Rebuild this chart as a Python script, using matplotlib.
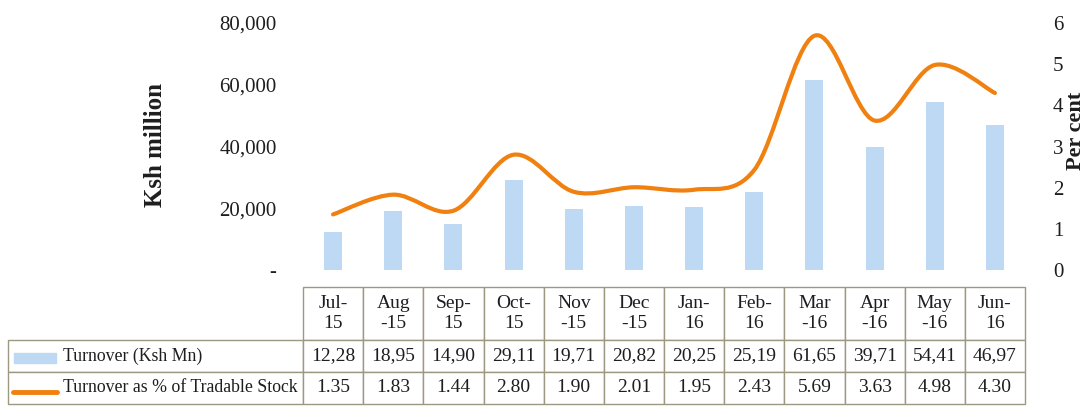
import matplotlib
matplotlib.use("Agg")
import matplotlib.pyplot as plt
import matplotlib.ticker as ticker
from matplotlib.path import Path
from matplotlib.patches import PathPatch, Rectangle
from matplotlib.lines import Line2D

plt.rcParams['font.family'] = ['Liberation Serif', 'DejaVu Serif']

# data
months = ['Jul-\n15', 'Aug\n-15', 'Sep-\n15', 'Oct-\n15', 'Nov\n-15', 'Dec\n-15',
          'Jan-\n16', 'Feb-\n16', 'Mar\n-16', 'Apr\n-16', 'May\n-16', 'Jun-\n16']
turnover = [12280, 18950, 14900, 29110, 19710, 20820, 20250, 25190, 61650, 39710, 54410, 46970]
turnover_labels = ['12,28', '18,95', '14,90', '29,11', '19,71', '20,82',
                   '20,25', '25,19', '61,65', '39,71', '54,41', '46,97']
pct = [1.35, 1.83, 1.44, 2.80, 1.90, 2.01, 1.95, 2.43, 5.69, 3.63, 4.98, 4.30]
pct_labels = ['%.2f' % v for v in pct]
row_names = ['Turnover (Ksh Mn)', 'Turnover as % of Tradable Stock']
left_ticks = [0, 20000, 40000, 60000, 80000]
left_tick_labels = ['-', '20,000', '40,000', '60,000', '80,000']

BLUE = '#bdd9f3'
ORANGE = '#f0800f'
EDGE = '#9d9882'
TXT = '#1e1e1e'

W, H = 1085, 408
fig = plt.figure(figsize=(W / 100, H / 100), dpi=100)
ax = fig.add_axes([303 / W, 1 - 270 / H, 722 / W, 247 / H])
ax2 = ax.twinx()

x = list(range(len(months)))
ax.bar(x, turnover, width=0.3, color=BLUE, zorder=1)
ax.set_xlim(-0.5, len(months) - 0.5)
ax.set_ylim(0, 80000)
ax2.set_ylim(0, 6)

# smooth line (Catmull-Rom style bezier through the data points)
pts = list(zip(x, pct))
verts = [pts[0]]
codes = [Path.MOVETO]
for i in range(len(pts) - 1):
    p0 = pts[max(i - 1, 0)]
    p1 = pts[i]
    p2 = pts[i + 1]
    p3 = pts[min(i + 2, len(pts) - 1)]
    c1 = (p1[0] + (p2[0] - p0[0]) / 6, p1[1] + (p2[1] - p0[1]) / 6)
    c2 = (p2[0] - (p3[0] - p1[0]) / 6, p2[1] - (p3[1] - p1[1]) / 6)
    verts += [c1, c2, p2]
    codes += [Path.CURVE4] * 3
ax2.add_patch(PathPatch(Path(verts, codes), fill=False, edgecolor=ORANGE,
                        lw=3.0, capstyle='round', joinstyle='round'))

for a in (ax, ax2):
    for s in a.spines.values():
        s.set_visible(False)
    a.tick_params(length=0, labelsize=15, labelcolor=TXT)
ax.set_xticks([])
ax.set_yticks(left_ticks)
ax.set_yticklabels(left_tick_labels)
ax.tick_params(axis='y', pad=19)
ax2.yaxis.set_major_locator(ticker.MultipleLocator(1))
ax2.tick_params(axis='y', pad=20)

fig.text(155 / W, 1 - 145 / H, 'Ksh million', rotation=90, ha='center', va='center',
         fontsize=18, fontweight='bold', color=TXT)
fig.text(1076 / W, 1 - 131 / H, 'Per cent', rotation=90, ha='center', va='center',
         fontsize=16, fontweight='bold', color=TXT)

# data table below the plot
cells = [[''] + months,
         [row_names[0]] + turnover_labels,
         [row_names[1]] + pct_labels]
aw = 722.0
ah = 247.0
label_w = (303 - 8) / aw
tab = ax.table(cellText=cells, cellLoc='center',
               colWidths=[label_w] + [1 / 12] * 12,
               bbox=[-label_w, (270 - 404) / ah, 1 + label_w, (404 - 287) / ah])
tab.auto_set_font_size(False)
row_h = [53, 32, 32]
for (r, c), cell in tab.get_celld().items():
    cell.set_height(row_h[r])
    cell.set_edgecolor(EDGE)
    cell.set_linewidth(1.0)
    cell.get_text().set_fontsize(14)
    cell.get_text().set_color(TXT)
    if r == 0 and c == 0:
        cell.visible_edges = ''
    if r > 0 and c == 0:
        cell._loc = 'left'
        cell.PAD = 0.185
        cell.get_text().set_ha('left')
        cell.get_text().set_fontsize(12.8)
    if r == 0:
        cell.get_text().set_linespacing(1.25)

# legend keys inside the row label cells
ax.add_patch(Rectangle(((14 - 303) / aw, (270 - 363) / ah), 42 / aw, 10 / ah,
                       transform=ax.transAxes, color=BLUE, clip_on=False))
ax.add_line(Line2D([(13 - 303) / aw, (57 - 303) / aw], [(270 - 392) / ah] * 2,
                   transform=ax.transAxes, color=ORANGE, lw=3.5, clip_on=False,
                   solid_capstyle='round'))

fig.savefig('out.png', dpi=100)
